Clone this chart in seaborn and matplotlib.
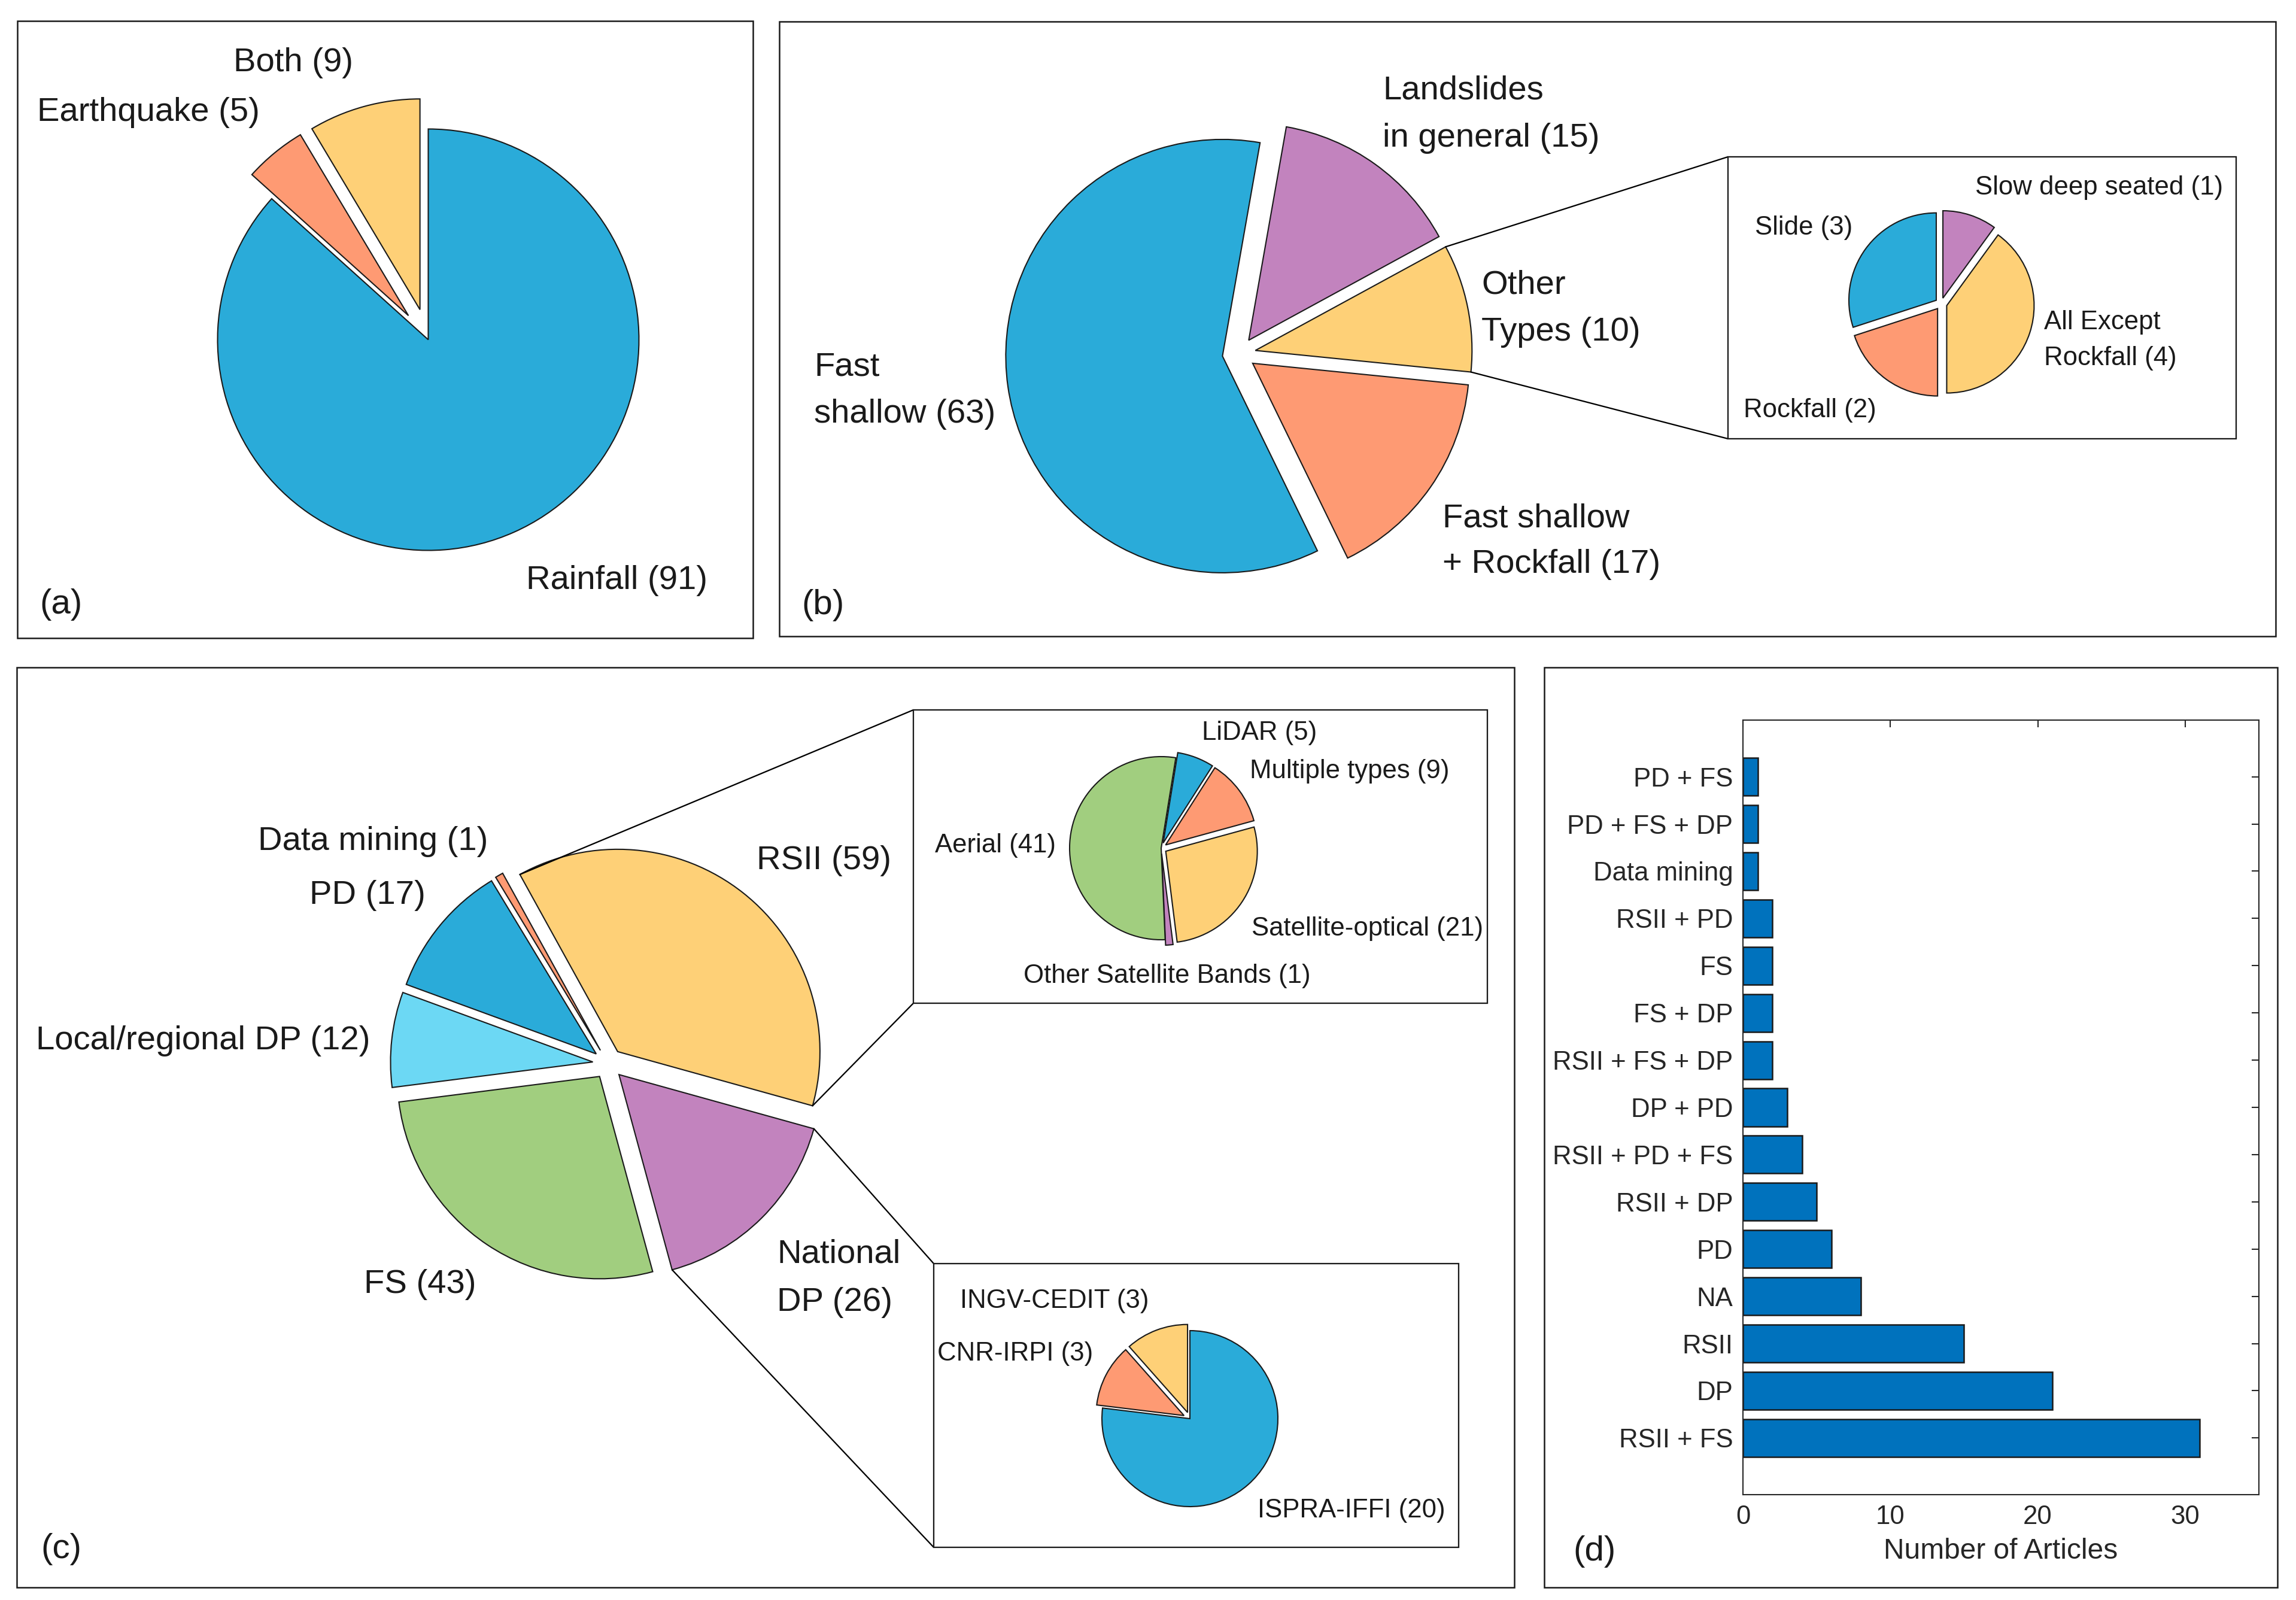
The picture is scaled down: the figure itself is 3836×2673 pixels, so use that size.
import matplotlib
matplotlib.use("Agg")
import matplotlib.pyplot as plt
from matplotlib.patches import Rectangle
import numpy as np
import pandas as pd
import seaborn as sns

# ---- data ----
trigger_names = ["Rainfall", "Earthquake", "Both"]
trigger_counts = [91, 5, 9]

type_names = ["Landslides\nin general", "Other\nTypes", "Fast shallow\n+ Rockfall", "Fast\nshallow"]
type_counts = [15, 10, 17, 63]

other_names = ["Slow deep seated", "All Except\nRockfall", "Rockfall", "Slide"]
other_counts = [1, 4, 2, 3]

source_names = ["RSII", "National\nDP", "FS", "Local/regional DP", "PD", "Data mining"]
source_counts = [59, 26, 43, 12, 17, 1]

rsii_names = ["LiDAR", "Multiple types", "Satellite-optical", "Other Satellite Bands", "Aerial"]
rsii_counts = [5, 9, 21, 1, 41]

national_names = ["ISPRA-IFFI", "CNR-IRPI", "INGV-CEDIT"]
national_counts = [20, 3, 3]

combo_names = ["PD + FS", "PD + FS + DP", "Data mining", "RSII + PD", "FS", "FS + DP",
               "RSII + FS + DP", "DP + PD", "RSII + PD + FS", "RSII + DP", "PD", "NA",
               "RSII", "DP", "RSII + FS"]
combo_counts = [1, 1, 1, 2, 2, 2, 2, 3, 4, 5, 6, 8, 15, 21, 31]

# ---- colours ----
BLUE = "#2AABD9"
ORANGE = "#FE9A73"
YELLOW = "#FED077"
PURPLE = "#C283BE"
GREEN = "#A1CE7F"
CYAN = "#6CD8F4"
BAR = "#0072BD"
EDGE = "#1a1a1a"
TXT = "#1a1a1a"

sns.set_style("white")
plt.rcParams["font.family"] = ["Liberation Sans", "DejaVu Sans"]

W, H = 3837, 2673
fig = plt.figure(figsize=(W / 300, H / 300), dpi=300)
cv = fig.add_axes([0, 0, 1, 1])


def draw_pie(values, colors, cx, cy, r, start, explode):
    # cx, cy in image pixels (y down)
    wedges, _ = cv.pie(values, colors=colors, center=(cx, H - cy), radius=r,
                       startangle=start, counterclock=False,
                       explode=[e * r for e in explode],
                       wedgeprops=dict(edgecolor=EDGE, linewidth=0.5))
    return wedges


def label(x, y, text, size, step):
    for i, line in enumerate(text.split("\n")):
        cv.text(x, H - y - i * step, line, fontsize=size, ha="left", va="center", color=TXT)


def frame(x0, y0, x1, y1, lw=0.6):
    cv.add_patch(Rectangle((x0, H - y1), x1 - x0, y1 - y0, fill=False,
                           edgecolor=TXT, linewidth=lw, zorder=5))


def connect(wedge, x0, y0, y1):
    cx, cy = wedge.center
    pts = []
    for th in (wedge.theta1, wedge.theta2):
        t = np.deg2rad(th)
        pts.append((cx + wedge.r * np.cos(t), cy + wedge.r * np.sin(t)))
    pts.sort(key=lambda p: -p[1])
    cv.plot([pts[0][0], x0], [pts[0][1], H - y0], color="black", lw=0.55)
    cv.plot([pts[1][0], x0], [pts[1][1], H - y1], color="black", lw=0.55)


BIG, SMALL = 13.5, 10.5

# ---- (a) triggers ----
frame(29, 35, 1258, 1066)
draw_pie(trigger_counts, [BLUE, ORANGE, YELLOW], 715.5, 567.5, 352, 90, [0, 0.148, 0.148])
label(879, 970, f"{trigger_names[0]} ({trigger_counts[0]})", BIG, 80)
label(62, 188, f"{trigger_names[1]} ({trigger_counts[1]})", BIG, 80)
label(390, 105, f"{trigger_names[2]} ({trigger_counts[2]})", BIG, 80)
label(66, 1010, "(a)", 14, 80)

# ---- (b) landslide types ----
frame(1302, 36, 3802, 1063)
wb = draw_pie(type_counts, [PURPLE, YELLOW, ORANGE, BLUE], 2070, 591, 362, 80, [0.077] * 4)
label(2310, 151, f"{type_names[0]} ({type_counts[0]})", BIG, 80)
label(2475, 476, f"{type_names[1]} ({type_counts[1]})", BIG, 79)
label(2410, 866, f"{type_names[2]} ({type_counts[2]})", BIG, 77)
label(1360, 613, f"{type_names[3]} ({type_counts[3]})", BIG, 79)
label(1339, 1011, "(b)", 14, 80)

frame(2887, 262, 3736, 733, lw=0.55)
connect(wb[1], 2887, 262, 733)
draw_pie(other_counts, [PURPLE, YELLOW, ORANGE, BLUE], 3243, 507.5, 146, 90, [0.068] * 4)
label(3300, 313, f"{other_names[0]} ({other_counts[0]})", SMALL, 60)
label(3415, 538, f"{other_names[1]} ({other_counts[1]})", SMALL, 60)
label(2913, 685, f"{other_names[2]} ({other_counts[2]})", SMALL, 60)
label(2932, 380, f"{other_names[3]} ({other_counts[3]})", SMALL, 60)

# ---- (c) data sources ----
frame(28, 1115, 2530, 2652)
wc = draw_pie(source_counts, [YELLOW, PURPLE, GREEN, CYAN, BLUE, ORANGE],
              1016, 1777, 338, 118.9, [0.076] * 6)
label(1264, 1438, f"{source_names[0]} ({source_counts[0]})", BIG, 80)
label(1298, 2095, f"{source_names[1]} ({source_counts[1]})", BIG, 81)
label(608, 2146, f"{source_names[2]} ({source_counts[2]})", BIG, 80)
label(60, 1739, f"{source_names[3]} ({source_counts[3]})", BIG, 80)
label(517, 1496, f"{source_names[4]} ({source_counts[4]})", BIG, 80)
label(431, 1406, f"{source_names[5]} ({source_counts[5]})", BIG, 80)
label(68, 2588, "(c)", 14, 80)

frame(1526, 1186, 2485, 1676, lw=0.55)
connect(wc[0], 1526, 1186, 1676)
draw_pie(rsii_counts, [BLUE, ORANGE, YELLOW, PURPLE, GREEN], 1940, 1417, 153, 80.8,
         [0.06, 0.06, 0.06, 0.06, 0])
label(2008, 1224, f"{rsii_names[0]} ({rsii_counts[0]})", SMALL, 60)
label(2088, 1288, f"{rsii_names[1]} ({rsii_counts[1]})", SMALL, 60)
label(2091, 1551, f"{rsii_names[2]} ({rsii_counts[2]})", SMALL, 60)
label(1710, 1630, f"{rsii_names[3]} ({rsii_counts[3]})", SMALL, 60)
label(1562, 1412, f"{rsii_names[4]} ({rsii_counts[4]})", SMALL, 60)

frame(1560, 2111, 2437, 2585, lw=0.55)
connect(wc[1], 1560, 2111, 2585)
draw_pie(national_counts, [BLUE, ORANGE, YELLOW], 1988, 2370, 147, 90, [0, 0.075, 0.075])
label(2101, 2524, f"{national_names[0]} ({national_counts[0]})", SMALL, 60)
label(1566, 2262, f"{national_names[1]} ({national_counts[1]})", SMALL, 60)
label(1604, 2174, f"{national_names[2]} ({national_counts[2]})", SMALL, 60)

# ---- (d) frame and tag on canvas ----
frame(2580, 1115, 3805, 2652)
label(2628, 2592, "(d)", 14, 80)

cv.set_xlim(0, W)
cv.set_ylim(0, H)
cv.set_aspect("auto")
cv.axis("off")

# ---- (d) bar chart ----
bx = fig.add_axes([2912 / W, (H - 2497) / H, (3774 - 2912) / W, (2497 - 1203) / H])
df = pd.DataFrame({"combo": combo_names, "n": combo_counts})
sns.barplot(data=df, x="n", y="combo", orient="h", color=BAR, saturation=1, width=0.8,
            edgecolor="#1a1a1a", linewidth=0.6, ax=bx)
bx.set_xlim(0, 35)
bx.set_ylim(len(combo_names) - 1 + 1.2, -1.2)
bx.set_xticks([0, 10, 20, 30])
bx.tick_params(direction="in", length=2.9, width=0.5, top=True, right=True,
               labeltop=False, labelright=False, labelsize=10.5, pad=4,
               color="#262626", labelcolor="#262626")
for s in bx.spines.values():
    s.set_visible(True)
    s.set_linewidth(0.5)
    s.set_color("#262626")
bx.set_ylabel("")
bx.set_xlabel("Number of Articles", fontsize=11.5, color="#262626", labelpad=3.5)

fig.savefig("out.png", dpi=300, facecolor="white")
